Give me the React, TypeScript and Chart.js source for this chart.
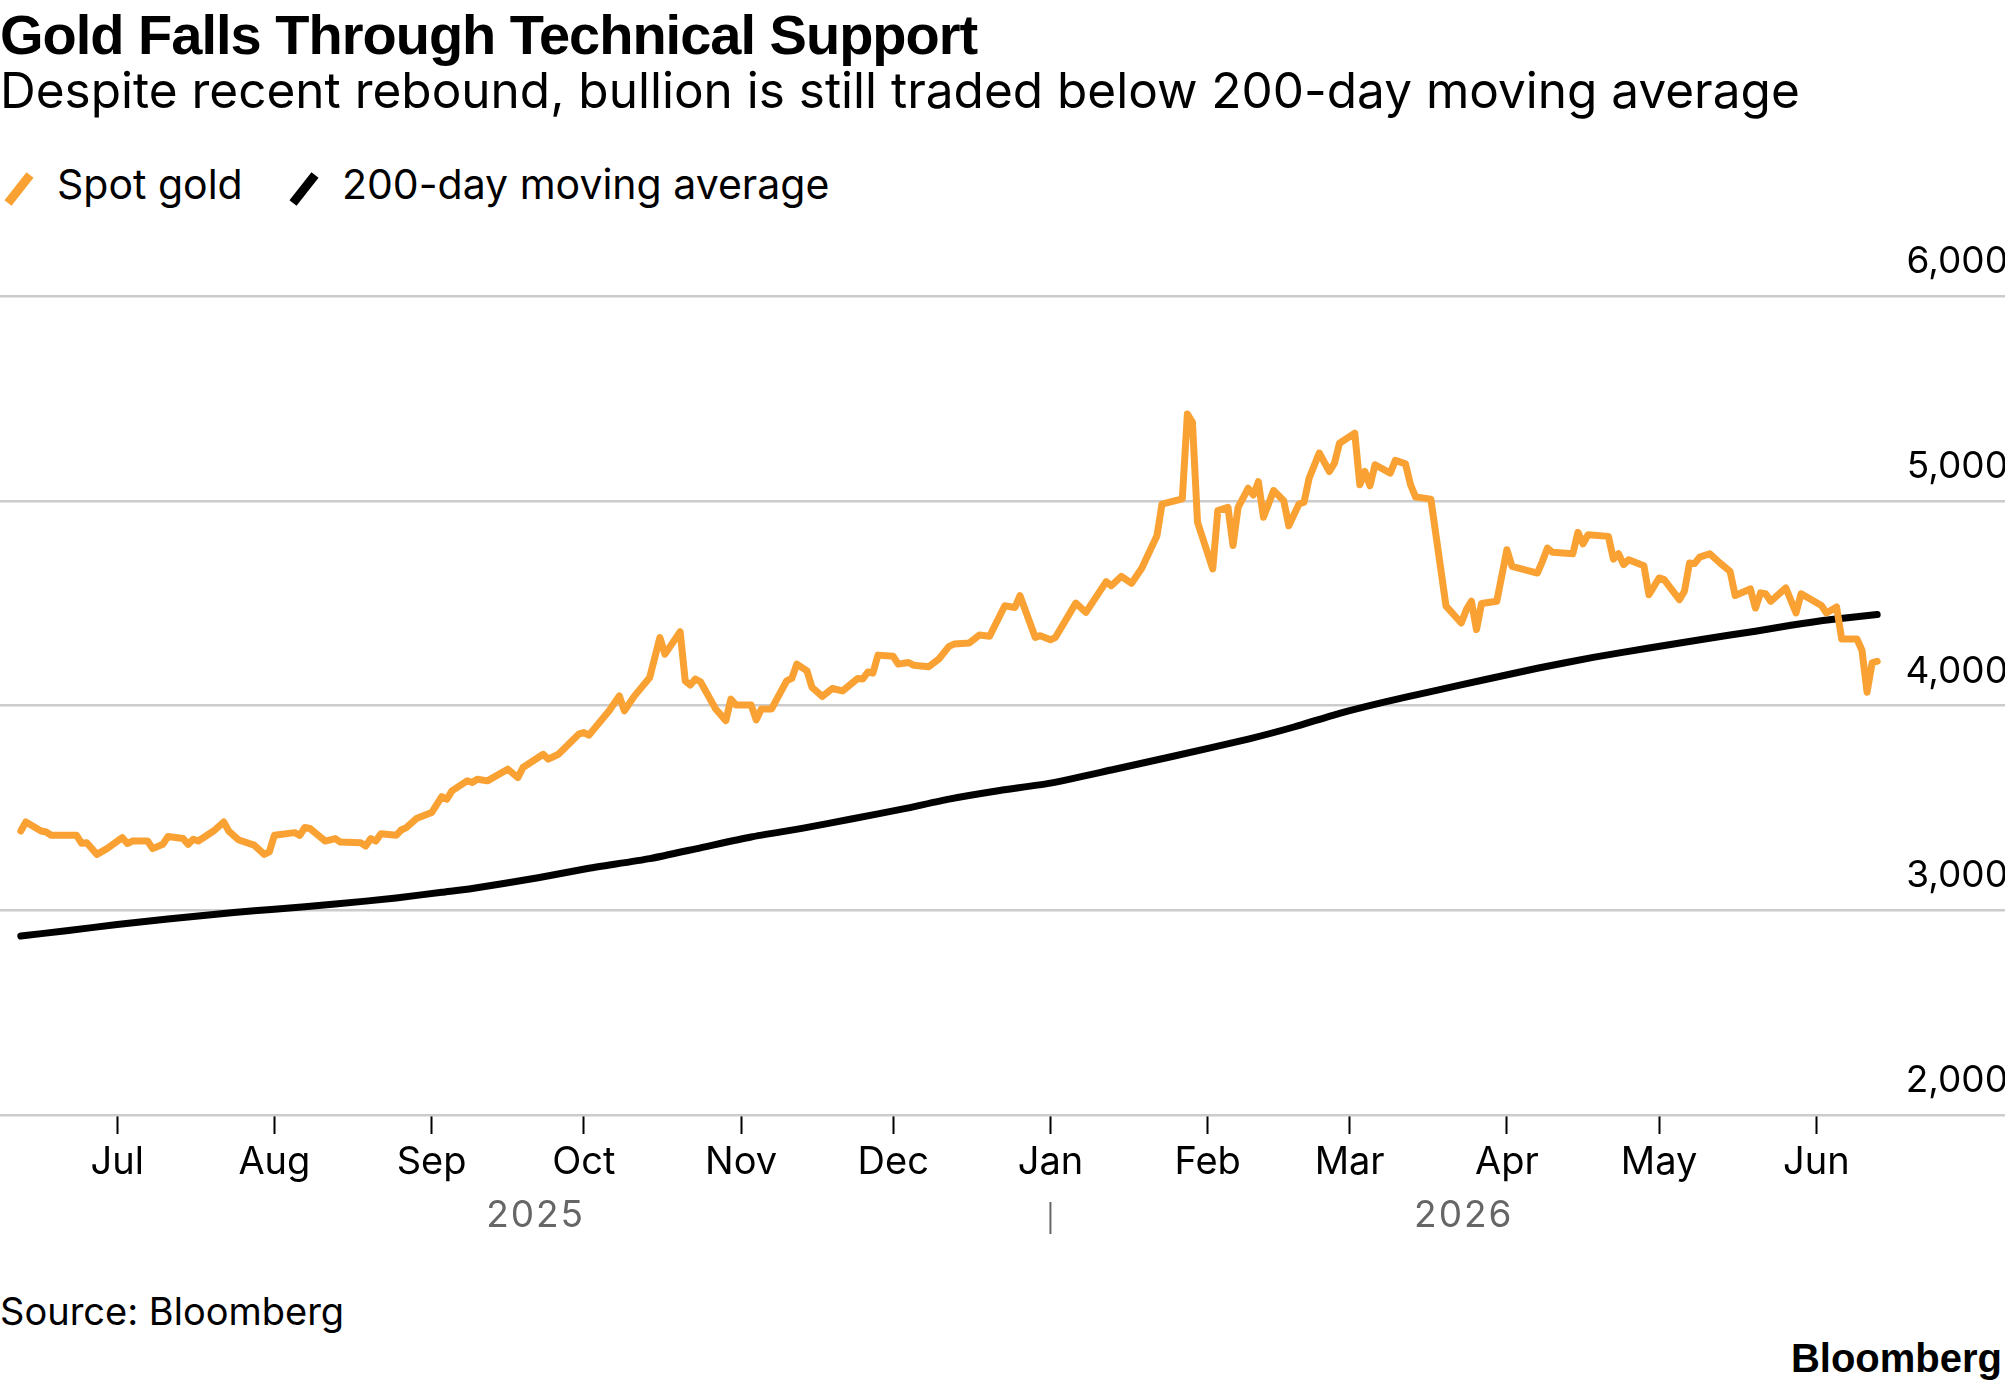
import React, { useEffect, useRef } from "react";
import { Chart, registerables } from "chart.js";

Chart.register(...registerables);

// Day numbers are days since 1 Jul 2025 (day 0 = 2025-07-01)
const goldDays = [
  -19, -18, -15, -14, -13, -8, -7, -6, -4, -2, 1, 2, 3, 6, 7, 9, 10, 13, 14, 15, 16, 19, 21, 22, 24, 27, 29, 30,
  31, 35, 36, 37, 38, 41, 43, 44, 48, 49, 50, 51, 52, 55, 56, 57, 59,
  62, 64, 65, 66, 69, 70, 71, 73, 77, 79, 80, 84, 85, 87, 91,
  92, 93, 97, 99, 100, 102, 105, 107, 108, 111, 112, 113, 114, 115, 118, 120, 121, 122,
  125, 126, 127, 129, 132, 133, 134, 136, 137, 139, 141, 143, 146, 147, 148, 149, 150,
  153, 154, 156, 157, 160, 162, 164, 165, 168, 170, 172, 175, 177, 178, 181, 182,
  184, 185, 189, 191, 195, 196, 198, 200, 202, 205, 206, 210, 211, 212, 213,
  216, 217, 219, 220, 221, 223, 224, 225, 226, 228, 230, 231, 233, 234, 235, 237, 239, 240, 241,
  244, 245, 246, 247, 248, 251, 252, 254, 255, 256, 259, 262, 265, 266, 267, 268, 269, 272,
  274, 275, 280, 281, 282, 283, 287, 288, 289, 290, 294, 295, 296, 297, 298, 301, 302,
  304, 305, 308, 309, 310, 311, 312, 314, 316, 318, 319, 322, 323, 324, 325, 326, 329, 331, 332,
  336, 337, 339, 340, 343, 344, 345, 346, 347,
];
const goldValues = [
  3387, 3431, 3387, 3382, 3366, 3366, 3327, 3330, 3273, 3301, 3355, 3326, 3338, 3338, 3301, 3322, 3360, 3350, 3322, 3347, 3338, 3387, 3431, 3387, 3343, 3318, 3273, 3285,
  3366, 3379, 3366, 3404, 3399, 3338, 3350, 3333, 3330, 3314, 3350, 3338, 3374, 3366, 3392, 3404, 3448,
  3477, 3555, 3542, 3583, 3632, 3624, 3640, 3632, 3689, 3648, 3697, 3762, 3738, 3762, 3860,
  3868, 3855, 3974, 4047, 3974, 4047, 4137, 4332, 4251, 4360, 4120, 4100, 4129, 4116, 3983, 3926, 4031, 4002,
  4002, 3930, 3983, 3983, 4120, 4132, 4202, 4169, 4088, 4044, 4083, 4071, 4132, 4129, 4164, 4158, 4246,
  4240, 4202, 4210, 4197, 4189, 4227, 4289, 4300, 4305, 4344, 4338, 4487, 4479, 4536, 4333, 4341,
  4321, 4333, 4500, 4455, 4605, 4585, 4631, 4597, 4670, 4829, 4984, 5009, 5424, 5383, 4895,
  4667, 4952, 4968, 4781, 4968, 5061, 5028, 5093, 4919, 5050, 5000, 4878, 4984, 4993, 5110, 5233, 5143, 5184, 5281,
  5330, 5078, 5143, 5073, 5176, 5135, 5197, 5180, 5078, 5018, 5008, 4485, 4403, 4468, 4509, 4371, 4498, 4509,
  4761, 4680, 4647, 4704, 4769, 4748, 4741, 4846, 4790, 4834, 4826, 4715, 4741, 4688, 4712, 4683, 4541,
  4623, 4615, 4517, 4558, 4696, 4693, 4725, 4741, 4696, 4655, 4537, 4569, 4476, 4550, 4546, 4509, 4574, 4452, 4546,
  4488, 4452, 4481, 4325, 4325, 4270, 4065, 4208, 4216,
];

const maDays = [
  -19, -10, 0, 10, 23, 31, 43, 55, 64, 70, 83, 93, 105, 115, 125, 135, 145, 155, 164, 174, 184, 196, 208,
  223, 232, 241, 250, 259, 270, 280, 291, 302, 313, 323, 330, 338, 347,
];
const maValues = [
  2874, 2900, 2930, 2957, 2989, 3005, 3030, 3060, 3088, 3106, 3159, 3205, 3252, 3305, 3358, 3400, 3447, 3495, 3543, 3585, 3621, 3685, 3751,
  3836, 3895, 3962, 4018, 4068, 4128, 4182, 4235, 4281, 4325, 4363, 4392, 4420, 4444,
];

const monthDays = [0, 31, 62, 92, 123, 153, 184, 215, 243, 274, 304, 335];
const monthLabels = ["Jul", "Aug", "Sep", "Oct", "Nov", "Dec", "Jan", "Feb", "Mar", "Apr", "May", "Jun"];
const yearLabels = ["2025", "2026"];
const yearBreakDay = 184;
const yTicks = [2000, 3000, 4000, 5000, 6000];

const GOLD = "#f9a133";
const BLACK = "#000000";

const yearPlugin = {
  id: "yearLabels",
  afterDraw(chart: any) {
    const { ctx, chartArea } = chart;
    const x = chart.scales.x;
    const first = goldDays[0];
    const last = goldDays[goldDays.length - 1];
    const c1 = x.getPixelForValue((first + yearBreakDay) / 2);
    const c2 = x.getPixelForValue((yearBreakDay + last) / 2);
    const sep = x.getPixelForValue(yearBreakDay);
    const b = chartArea.bottom;
    ctx.save();
    ctx.fillStyle = "#666666";
    ctx.font = "37px Inter";
    try {
      (ctx as any).letterSpacing = "2px";
    } catch (e) {}
    ctx.textAlign = "center";
    ctx.textBaseline = "alphabetic";
    ctx.fillText(yearLabels[0], c1, b + 112);
    ctx.fillText(yearLabels[1], c2, b + 112);
    ctx.strokeStyle = "#666666";
    ctx.lineWidth = 2;
    ctx.beginPath();
    ctx.moveTo(sep, b + 87);
    ctx.lineTo(sep, b + 119);
    ctx.stroke();
    ctx.restore();
  },
};

function LegendIcon({ color, left }: { color: string; left: number }) {
  return (
    <svg
      width={34}
      height={34}
      style={{ position: "absolute", left, top: 172 }}
      viewBox="0 0 34 34"
    >
      <line x1={6} y1={31} x2={28} y2={3} stroke={color} strokeWidth={9} />
    </svg>
  );
}

export default function App() {
  const canvasRef = useRef<HTMLCanvasElement | null>(null);

  useEffect(() => {
    if (!canvasRef.current) return;
    const gold = goldDays.map((d, i) => ({ x: d, y: goldValues[i] }));
    const ma = maDays.map((d, i) => ({ x: d, y: maValues[i] }));
    const chart = new Chart(canvasRef.current, {
      type: "line",
      data: {
        datasets: [
          {
            label: "Spot gold",
            data: gold,
            borderColor: GOLD,
            borderWidth: 7,
            pointRadius: 0,
            tension: 0,
            borderJoinStyle: "round",
            borderCapStyle: "round",
          },
          {
            label: "200-day moving average",
            data: ma,
            borderColor: BLACK,
            borderWidth: 7,
            pointRadius: 0,
            tension: 0.2,
            borderJoinStyle: "round",
            borderCapStyle: "round",
          },
        ],
      },
      options: {
        animation: false,
        responsive: false,
        devicePixelRatio: 1,
        layout: { padding: { top: 76, left: 0, right: 0, bottom: 0 } },
        plugins: {
          legend: { display: false },
          tooltip: { enabled: false },
          title: { display: false },
        },
        scales: {
          x: {
            type: "linear",
            min: -23.1,
            max: 372.2,
            afterBuildTicks: (s: any) => {
              s.ticks = monthDays.map((v) => ({ value: v }));
            },
            afterFit: (s: any) => {
              s.height = 145;
            },
            grid: {
              drawOnChartArea: false,
              drawTicks: true,
              tickLength: 19,
              tickColor: "#000",
              tickWidth: 2,
              color: "#000",
            },
            border: { display: false },
            ticks: {
              autoSkip: false,
              maxRotation: 0,
              minRotation: 0,
              padding: 6,
              color: "#000",
              font: { family: "Inter", size: 38 },
              callback: (v: any) => {
                const i = monthDays.indexOf(Number(v));
                return i >= 0 ? monthLabels[i] : "";
              },
            },
          },
          y: {
            position: "right",
            min: 2000,
            max: 6000,
            afterBuildTicks: (s: any) => {
              s.ticks = yTicks.map((v) => ({ value: v }));
            },
            afterFit: (s: any) => {
              s.width = 0;
            },
            grid: { color: "#cccccc", lineWidth: 2.5, drawTicks: false },
            border: { display: false },
            ticks: {
              mirror: true,
              padding: 3,
              labelOffset: -34,
              color: "#000",
              font: { family: "Inter", size: 37 },
              callback: (v: any) => Number(v).toLocaleString("en-US"),
            },
          },
        },
      },
      plugins: [yearPlugin],
    });
    return () => chart.destroy();
  }, []);

  return (
    <div
      style={{
        position: "absolute",
        left: 0,
        top: 0,
        width: 2005,
        height: 1392,
        background: "#fff",
        fontFamily: "Inter, 'Liberation Sans', sans-serif",
        color: "#000",
        overflow: "hidden",
      }}
    >
      <div
        style={{
          position: "absolute",
          left: 0,
          top: 7,
          fontFamily: "'Liberation Sans', Arial, sans-serif",
          fontWeight: 700,
          fontSize: 56,
          lineHeight: "56px",
          letterSpacing: "-1px",
          whiteSpace: "nowrap",
        }}
      >
        Gold Falls Through Technical Support
      </div>
      <div
        style={{
          position: "absolute",
          left: 0,
          top: 66,
          fontSize: 49.5,
          lineHeight: "49.5px",
          whiteSpace: "nowrap",
        }}
      >
        Despite recent rebound, bullion is still traded below 200-day moving average
      </div>
      <LegendIcon color={GOLD} left={2} />
      <div style={{ position: "absolute", left: 57, top: 164, fontSize: 41, lineHeight: "41px", whiteSpace: "nowrap" }}>
        Spot gold
      </div>
      <LegendIcon color={BLACK} left={287} />
      <div style={{ position: "absolute", left: 342, top: 164, fontSize: 41, lineHeight: "41px", whiteSpace: "nowrap" }}>
        200-day moving average
      </div>
      <canvas
        ref={canvasRef}
        width={2005}
        height={1040}
        style={{ position: "absolute", left: 0, top: 220, width: 2005, height: 1040 }}
      />
      <div style={{ position: "absolute", left: 0, top: 1292, fontSize: 38, lineHeight: "38px", whiteSpace: "nowrap" }}>
        Source: Bloomberg
      </div>
      <div
        style={{
          position: "absolute",
          right: 3,
          top: 1338,
          fontFamily: "'Liberation Sans', Arial, sans-serif",
          fontWeight: 700,
          fontSize: 40,
          lineHeight: "40px",
          whiteSpace: "nowrap",
        }}
      >
        Bloomberg
      </div>
    </div>
  );
}
